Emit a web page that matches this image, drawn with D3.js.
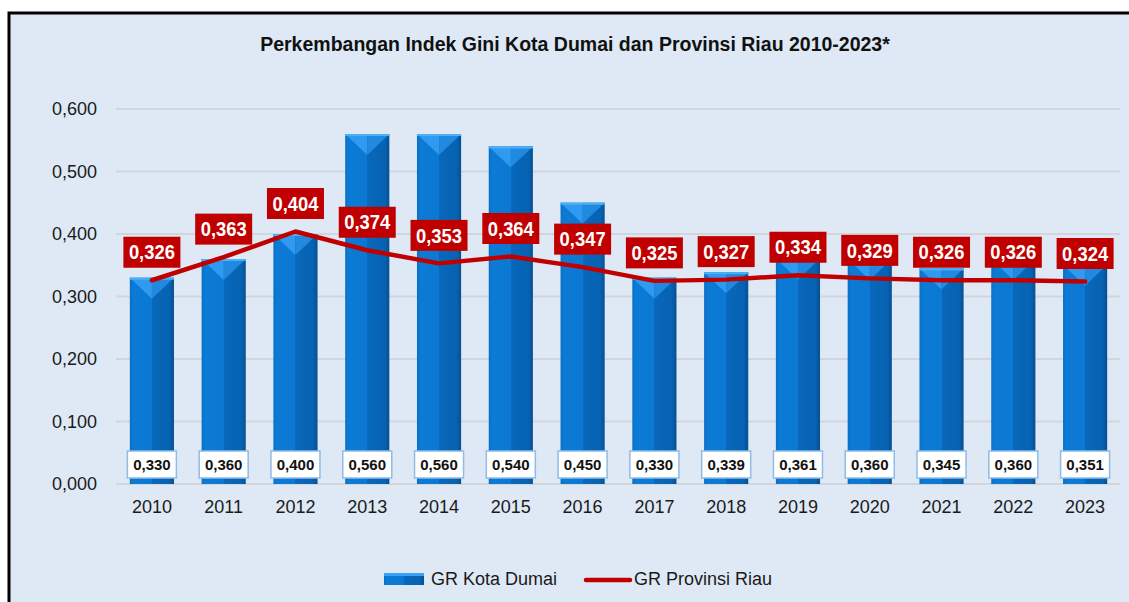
<!DOCTYPE html>
<html>
<head>
<meta charset="utf-8">
<script src="https://cdn.jsdelivr.net/npm/d3@7"></script>
<style>
  body { margin: 0; background: #fff; }
  svg text { font-family: "Liberation Sans", Arial, sans-serif; }
</style>
</head>
<body>
<div id="chart"></div>
<script>
var w = 1129, h = 602;

// data
var years = ['2010','2011','2012','2013','2014','2015','2016','2017','2018','2019','2020','2021','2022','2023'];
var dumai = [0.330, 0.360, 0.400, 0.560, 0.560, 0.540, 0.450, 0.330, 0.339, 0.361, 0.360, 0.345, 0.360, 0.351];
var riau = [0.326, 0.363, 0.404, 0.374, 0.353, 0.364, 0.347, 0.325, 0.327, 0.334, 0.329, 0.326, 0.326, 0.324];
var yTicks = [0, 0.1, 0.2, 0.3, 0.4, 0.5, 0.6];

var fmt = function (v) { return d3.format('.3f')(v).replace('.', ','); };

var svg = d3.select('#chart').append('svg')
  .attr('width', w)
  .attr('height', h);

var defs = svg.append('defs');
var g1 = defs.append('linearGradient').attr('id', 'barBody').attr('x1', 0).attr('x2', 1).attr('y1', 0).attr('y2', 0);
g1.append('stop').attr('offset', '0%').attr('stop-color', '#0a6fc4');
g1.append('stop').attr('offset', '8%').attr('stop-color', '#0c7bd6');
g1.append('stop').attr('offset', '50%').attr('stop-color', '#0b78d2');
g1.append('stop').attr('offset', '50%').attr('stop-color', '#0868bb');
g1.append('stop').attr('offset', '90%').attr('stop-color', '#0762b2');
g1.append('stop').attr('offset', '100%').attr('stop-color', '#064f91');

// background panel
svg.append('rect')
  .attr('x', 9).attr('y', 13)
  .attr('width', w).attr('height', h)
  .style('fill', '#dee9f5')
  .style('stroke', '#000')
  .style('stroke-width', 3);

var x = d3.scaleBand()
  .domain(years)
  .range([116, 1121])
  .paddingInner(0.385)
  .paddingOuter(0.1925);

var y = d3.scaleLinear()
  .domain([0, 0.6])
  .range([484, 109]);

// grid
svg.append('g').selectAll('line')
  .data(yTicks)
  .enter()
  .append('line')
  .attr('x1', 116).attr('x2', 1120)
  .attr('y1', function (d) { return y(d); })
  .attr('y2', function (d) { return y(d); })
  .style('stroke', '#d2d5d9')
  .style('stroke-width', 2);

// y axis labels
var yAxis = svg.append('g')
  .attr('transform', 'translate(106,0)')
  .call(d3.axisLeft(y).tickValues(yTicks).tickFormat(fmt).tickSize(0).tickPadding(9));
yAxis.select('.domain').remove();
yAxis.selectAll('text')
  .style('font-size', '18px')
  .style('fill', '#1a1a1a');

// x axis labels
var xAxis = svg.append('g')
  .attr('transform', 'translate(0,484)')
  .call(d3.axisBottom(x).tickSize(0).tickPadding(16));
xAxis.select('.domain').remove();
xAxis.selectAll('text')
  .style('font-size', '18px')
  .style('fill', '#1a1a1a');

// bars
var bw = x.bandwidth();
var bars = svg.append('g').selectAll('.bar')
  .data(dumai)
  .enter()
  .append('g')
  .attr('class', 'bar')
  .attr('transform', function (d, i) { return 'translate(' + x(years[i]) + ',0)'; });

bars.append('rect')
  .attr('x', 0)
  .attr('y', function (d) { return y(d); })
  .attr('width', bw)
  .attr('height', function (d) { return y(0) - y(d); })
  .style('fill', 'url(#barBody)');

// chevron top
var tri = 21;
bars.append('path')
  .attr('d', function (d) {
    var t = y(d);
    return 'M0,' + t + 'L' + bw / 2 + ',' + t + 'L' + bw / 2 + ',' + (t + tri) + 'Z';
  })
  .style('fill', '#2f9af0');
bars.append('path')
  .attr('d', function (d) {
    var t = y(d);
    return 'M' + bw / 2 + ',' + t + 'L' + bw + ',' + t + 'L' + bw / 2 + ',' + (t + tri) + 'Z';
  })
  .style('fill', '#2189df');
bars.append('rect')
  .attr('x', 0)
  .attr('y', function (d) { return y(d); })
  .attr('width', bw)
  .attr('height', 2)
  .style('fill', '#4cb0f7');

// value boxes at bottom
var boxes = svg.append('g').selectAll('.vbox')
  .data(dumai)
  .enter()
  .append('g')
  .attr('class', 'vbox')
  .attr('transform', function (d, i) { return 'translate(' + (x(years[i]) + bw / 2) + ',' + 464.5 + ')'; });
boxes.append('rect')
  .attr('x', -24.5).attr('y', -13.5)
  .attr('width', 49).attr('height', 27)
  .style('fill', '#fff')
  .style('stroke', '#8fbce8')
  .style('stroke-width', 1.5);
boxes.append('text')
  .attr('text-anchor', 'middle')
  .attr('dy', '0.36em')
  .style('font-size', '15px')
  .style('font-weight', 'bold')
  .style('fill', '#111')
  .text(function (d) { return fmt(d); });

// red line
var line = d3.line()
  .x(function (d, i) { return x(years[i]) + bw / 2; })
  .y(function (d) { return y(d); });

svg.append('path')
  .datum(riau)
  .attr('d', line)
  .style('fill', 'none')
  .style('stroke', '#c00000')
  .style('stroke-width', 4.5)
  .style('stroke-linecap', 'round')
  .style('stroke-linejoin', 'round');

// red labels
var labs = svg.append('g').selectAll('.rlab')
  .data(riau)
  .enter()
  .append('g')
  .attr('class', 'rlab')
  .attr('transform', function (d, i) { return 'translate(' + (x(years[i]) + bw / 2) + ',' + (y(d) - 28) + ')'; });
labs.append('rect')
  .attr('x', -28.5).attr('y', -15.5)
  .attr('width', 57).attr('height', 31)
  .style('fill', '#c00000');
labs.append('text')
  .attr('text-anchor', 'middle')
  .attr('dy', '0.36em')
  .attr('transform', 'scale(0.92,1)')
  .style('font-size', '20px')
  .style('font-weight', 'bold')
  .style('fill', '#fff')
  .text(function (d) { return fmt(d); });

// title
svg.append('text')
  .attr('x', 575).attr('y', 51)
  .attr('text-anchor', 'middle')
  .style('font-size', '19.5px')
  .style('font-weight', 'bold')
  .style('fill', '#111')
  .text('Perkembangan Indek Gini Kota Dumai dan Provinsi Riau 2010-2023*');

// legend
var leg = svg.append('g');
leg.append('rect')
  .attr('x', 384).attr('y', 573)
  .attr('width', 40).attr('height', 12)
  .style('fill', 'url(#barBody)');
leg.append('rect')
  .attr('x', 384).attr('y', 573)
  .attr('width', 40).attr('height', 3)
  .style('fill', '#3aa2f2');
leg.append('text')
  .attr('x', 431).attr('y', 585)
  .style('font-size', '18px')
  .style('fill', '#1a1a1a')
  .text('GR Kota Dumai');
leg.append('line')
  .attr('x1', 586).attr('x2', 630)
  .attr('y1', 580).attr('y2', 580)
  .style('stroke', '#c00000')
  .style('stroke-width', 4.5)
  .style('stroke-linecap', 'round');
leg.append('text')
  .attr('x', 634).attr('y', 585)
  .style('font-size', '18px')
  .style('fill', '#1a1a1a')
  .text('GR Provinsi Riau');
</script>
</body>
</html>
